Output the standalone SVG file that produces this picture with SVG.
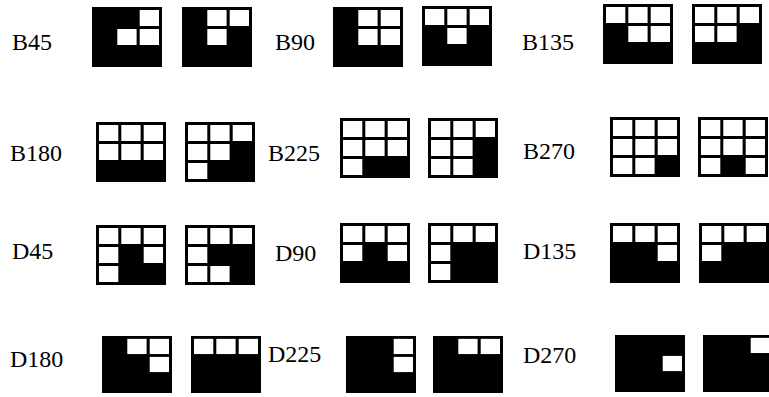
<svg xmlns="http://www.w3.org/2000/svg" xmlns:xlink="http://www.w3.org/1999/xlink" width="769" height="397" viewBox="0 0 769 397">
<style>
.lbl{font-family:"Liberation Serif","Times New Roman",serif;font-size:24px;fill:#000}
.bg{fill:#000}
.w{fill:#fff}
</style>
<defs>
<rect id="g" class="bg" x="0" y="0" width="70" height="60"/>
<rect id="c00" class="w" x="3" y="3" width="19.3" height="16"/>
<rect id="c01" class="w" x="25.3" y="3" width="19.3" height="16"/>
<rect id="c02" class="w" x="47.7" y="3" width="19.3" height="16"/>
<rect id="c10" class="w" x="3" y="22" width="19.3" height="16"/>
<rect id="c11" class="w" x="25.3" y="22" width="19.3" height="16"/>
<rect id="c12" class="w" x="47.7" y="22" width="19.3" height="16"/>
<rect id="c20" class="w" x="3" y="41" width="19.3" height="16"/>
<rect id="c21" class="w" x="25.3" y="41" width="19.3" height="16"/>
<rect id="c22" class="w" x="47.7" y="41" width="19.3" height="16"/>
</defs>
<rect width="769" height="397" fill="#fff"/>

<g id="labels">
<text class="lbl" x="12" y="50">B45</text>
<text class="lbl" x="275" y="50">B90</text>
<text class="lbl" x="522" y="50">B135</text>
<text class="lbl" x="10" y="161">B180</text>
<text class="lbl" x="268" y="161">B225</text>
<text class="lbl" x="523" y="159">B270</text>
<text class="lbl" x="12" y="259">D45</text>
<text class="lbl" x="275" y="261">D90</text>
<text class="lbl" x="523" y="259">D135</text>
<text class="lbl" x="10" y="367">D180</text>
<text class="lbl" x="268" y="362">D225</text>
<text class="lbl" x="523" y="363">D270</text>
</g>

<g id="B45a" transform="translate(92,7)"><use href="#g"/><use href="#c02"/><use href="#c11"/><use href="#c12"/></g>
<g id="B45b" transform="translate(182,7)"><use href="#g"/><use href="#c01"/><use href="#c02"/><use href="#c11"/></g>
<g id="B90a" transform="translate(333,7)"><use href="#g"/><use href="#c01"/><use href="#c02"/><use href="#c11"/><use href="#c12"/></g>
<g id="B90b" transform="translate(422,6)"><use href="#g"/><use href="#c00"/><use href="#c01"/><use href="#c02"/><use href="#c11"/></g>
<g id="B135a" transform="translate(603,4)"><use href="#g"/><use href="#c00"/><use href="#c01"/><use href="#c02"/><use href="#c11"/><use href="#c12"/></g>
<g id="B135b" transform="translate(692,4)"><use href="#g"/><use href="#c00"/><use href="#c01"/><use href="#c02"/><use href="#c10"/><use href="#c11"/></g>

<g id="B180a" transform="translate(96,122)"><use href="#g"/><use href="#c00"/><use href="#c01"/><use href="#c02"/><use href="#c10"/><use href="#c11"/><use href="#c12"/></g>
<g id="B180b" transform="translate(185,122)"><use href="#g"/><use href="#c00"/><use href="#c01"/><use href="#c02"/><use href="#c10"/><use href="#c11"/><use href="#c20"/></g>
<g id="B225a" transform="translate(340,118)"><use href="#g"/><use href="#c00"/><use href="#c01"/><use href="#c02"/><use href="#c10"/><use href="#c11"/><use href="#c12"/><use href="#c20"/></g>
<g id="B225b" transform="translate(428,118)"><use href="#g"/><use href="#c00"/><use href="#c01"/><use href="#c02"/><use href="#c10"/><use href="#c11"/><use href="#c20"/><use href="#c21"/></g>
<g id="B270a" transform="translate(610,117)"><use href="#g"/><use href="#c00"/><use href="#c01"/><use href="#c02"/><use href="#c10"/><use href="#c11"/><use href="#c12"/><use href="#c20"/><use href="#c21"/></g>
<g id="B270b" transform="translate(698,117)"><use href="#g"/><use href="#c00"/><use href="#c01"/><use href="#c02"/><use href="#c10"/><use href="#c11"/><use href="#c12"/><use href="#c20"/><use href="#c22"/></g>

<g id="D45a" transform="translate(96,225)"><use href="#g"/><use href="#c00"/><use href="#c01"/><use href="#c02"/><use href="#c10"/><use href="#c12"/><use href="#c20"/></g>
<g id="D45b" transform="translate(185,225)"><use href="#g"/><use href="#c00"/><use href="#c01"/><use href="#c02"/><use href="#c10"/><use href="#c20"/><use href="#c21"/></g>
<g id="D90a" transform="translate(340,223)"><use href="#g"/><use href="#c00"/><use href="#c01"/><use href="#c02"/><use href="#c10"/><use href="#c12"/></g>
<g id="D90b" transform="translate(428,223)"><use href="#g"/><use href="#c00"/><use href="#c01"/><use href="#c02"/><use href="#c10"/><use href="#c20"/></g>
<g id="D135a" transform="translate(610,223)"><use href="#g"/><use href="#c00"/><use href="#c01"/><use href="#c02"/><use href="#c12"/></g>
<g id="D135b" transform="translate(699,223)"><use href="#g"/><use href="#c00"/><use href="#c01"/><use href="#c02"/><use href="#c10"/></g>

<g id="D180a" transform="translate(102,336) scale(1,0.95)"><use href="#g"/><use href="#c01"/><use href="#c02"/><use href="#c12"/></g>
<g id="D180b" transform="translate(191,336) scale(1,0.95)"><use href="#g"/><use href="#c00"/><use href="#c01"/><use href="#c02"/></g>
<g id="D225a" transform="translate(346,336) scale(1,0.95)"><use href="#g"/><use href="#c02"/><use href="#c12"/></g>
<g id="D225b" transform="translate(433,336) scale(1,0.95)"><use href="#g"/><use href="#c01"/><use href="#c02"/></g>
<g id="D270a" transform="translate(615,335) scale(1,0.95)"><use href="#g"/><use href="#c12"/></g>
<g id="D270b" transform="translate(703,335) scale(1,0.95)"><use href="#g"/><use href="#c02"/></g>
</svg>
